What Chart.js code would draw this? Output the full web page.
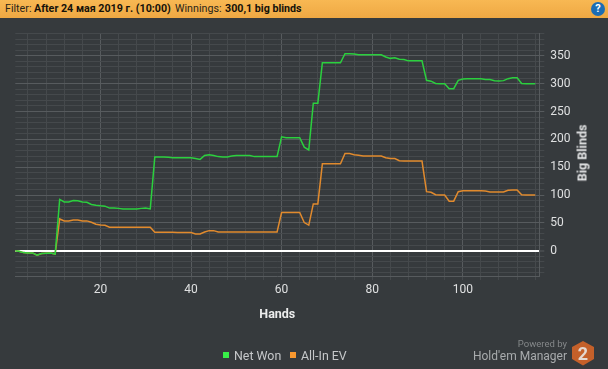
<!DOCTYPE html>
<html>
<head>
<meta charset="utf-8">
<script src="https://cdn.jsdelivr.net/npm/chart.js@4"></script>
<style>
  html, body { margin: 0; padding: 0; background: #363a3d; }
  #page { position: relative; width: 608px; height: 369px; overflow: hidden; font-family: Roboto, sans-serif; }
  #chart { position: absolute; left: 0; top: 0; }
  #header { position: absolute; left: 0; top: 0; width: 608px; height: 18px; background: linear-gradient(#f8b853, #efa843); color: #2a2418; font-size: 10.7px; line-height: 18px; }
  #header span { position: absolute; top: 0; white-space: nowrap; }
  #header b { font-weight: 700; color: #15120a; }
  #help { position: absolute; left: 591px; top: 2px; width: 14px; height: 14px; border-radius: 50%; background: #1c6db4; color: #fff; font: bold 11px/14px Roboto, sans-serif; text-align: center; }
  #yTitle { position: absolute; left: 582px; top: 153px; transform: translate(-50%, -50%) rotate(-90deg); color: #e6e7e8; font-size: 12.5px; font-weight: 700; white-space: nowrap; }
  .legend { position: absolute; top: 347px; color: #c6c8ca; font-size: 12.4px; line-height: 18px; white-space: nowrap; }
  .swatch { position: absolute; top: 352px; width: 6px; height: 6px; }
  #powered { position: absolute; right: 41px; top: 337px; color: #85888a; font-size: 9.5px; line-height: 14px; }
  #hem { position: absolute; right: 41px; top: 347px; color: #a8abad; font-size: 12px; line-height: 18px; white-space: nowrap; }
  #logo { position: absolute; left: 571px; top: 341px; }
</style>
</head>
<body>
<div id="page">
  <canvas id="chart" width="608" height="369"></canvas>
  <div id="header">
    <span style="left:5px">Filter:</span>
    <span style="left:34px"><b>After 24 мая 2019 г. (10:00)</b></span>
    <span style="left:175px">Winnings:</span>
    <span style="left:225px"><b>300,1 big blinds</b></span>
  </div>
  <div id="help">?</div>
  <div id="yTitle">Big Blinds</div>
  <div id="legend"></div>
  <div id="powered">Powered by</div>
  <div id="hem">Hold'em Manager</div>
  <svg id="logo" width="24" height="25" viewBox="0 0 24 25">
    <polygon points="12,0 23,6 23,18 12,24.5 1,18 1,6" fill="#c4602a"/>
    <text x="12" y="19" text-anchor="middle" font-family="Roboto" font-weight="700" font-size="18" fill="#e4d8d0">2</text>
  </svg>
</div>
<script>
// Data, one value per hand
const netWon = [
  0, -1, -3.5, -4, -4, -8, -5, -4.5, -4, -6,
  92, 87.5, 87.5, 90, 89.5, 87.5, 87, 83, 81.5, 80.5,
  80, 76.5, 76.5, 76, 75, 75, 75, 75, 76, 76.5,
  75, 168.5, 168.5, 168.5, 168, 167, 167, 167, 167, 167,
  165.5, 164, 171, 172.5, 171, 169, 168.5, 168.5, 170, 171,
  171, 171, 171, 169, 169, 169, 169, 169, 169, 204.5,
  203, 203, 203, 203, 186, 181, 265, 265, 337.5, 337.5,
  337.5, 337.5, 337.5, 354, 354, 353.5, 352, 352, 352, 352,
  352, 352, 348, 345.5, 346.5, 344, 343.5, 341, 341, 341,
  341, 306, 304.5, 300.5, 300, 300, 291, 291, 306, 308.5,
  309, 309, 309, 309, 307.5, 307.5, 305.5, 305, 305.5, 309,
  310.5, 310.5, 300.5, 300, 300, 300
];
const allInEv = [
  0, -1, -3.5, -4, -4, -8, -5, -4.5, -4, -6,
  57, 53.5, 53.5, 55, 55, 53.5, 53.5, 51, 47.5, 46,
  45.5, 42, 42, 42, 42, 42, 42, 42, 42, 42,
  42, 33, 33, 33, 33, 33, 32.5, 32.5, 32.5, 32.5,
  30, 30, 33.5, 36, 36, 33.5, 33.5, 33.5, 33.5, 33.5,
  33.5, 33.5, 33.5, 33.5, 33.5, 33.5, 33.5, 33.5, 33.5, 68.5,
  68.5, 68.5, 68.5, 68.5, 50.5, 46, 84, 84, 156, 156,
  156, 156, 156, 174.5, 174.5, 172.5, 171.5, 170, 170, 170,
  170, 170, 167, 165.5, 165.5, 161.5, 161, 161, 161, 161,
  161, 106, 105, 100.5, 100, 100, 89, 89, 106, 107.5,
  107.5, 107.5, 107.5, 107.5, 107, 105.5, 105.5, 105.5, 105.5, 108.5,
  109, 109, 100.5, 100, 100, 100
];
const seriesNames = ["Net Won", "All-In EV"];

const TEXT = "#dfe0e1";
const GRID_MAJOR = "#575b5e";
const GRID_MINOR = "#45494c";

const toPoints = vals => vals.map((y, i) => ({ x: i + 1, y }));

// legend is plain html, the original sits left of the plot centre
const legendBox = document.getElementById("legend");
[["#38ee48", 223, 234], ["#f8982f", 290, 301]].forEach(([color, boxX, textX], i) => {
  legendBox.insertAdjacentHTML("beforeend",
    `<div class="swatch" style="left:${boxX}px;background:${color}"></div>` +
    `<div class="legend" style="left:${textX}px">${seriesNames[i]}</div>`);
});

new Chart(document.getElementById("chart"), {
  type: "line",
  data: {
    datasets: [
      { label: seriesNames[0], data: toPoints(netWon), borderColor: "#2bd03e", borderWidth: 1.5, pointRadius: 0, tension: 0 },
      { label: seriesNames[1], data: toPoints(allInEv), borderColor: "#e18a2d", borderWidth: 1.5, pointRadius: 0, tension: 0 }
    ]
  },
  options: {
    responsive: false,
    animation: false,
    layout: { padding: { left: 15.3, top: 33.6, right: 0, bottom: 0 } },
    plugins: { legend: { display: false }, tooltip: { enabled: false } },
    scales: {
      x: {
        type: "linear",
        min: 1.2,
        max: 116.9,
        afterFit: s => { s.height = 93; },
        border: { color: GRID_MAJOR },
        title: { display: true, text: "Hands", color: "#eceded", font: { family: "Roboto", size: 12.5, weight: "bold" }, padding: { top: 0, bottom: 47 } },
        ticks: {
          stepSize: 4,
          includeBounds: false,
          autoSkip: false,
          maxRotation: 0,
          padding: 3,
          color: TEXT,
          font: { family: "Roboto", size: 12 },
          callback: v => (v % 20 === 0 ? String(v) : "")
        },
        grid: {
          tickLength: 4,
          color: c => (c.tick && c.tick.value % 20 === 0 ? GRID_MAJOR : GRID_MINOR),
          tickColor: GRID_MINOR
        }
      },
      y: {
        position: "right",
        min: -45.5,
        max: 390,
        afterFit: s => { s.width = 68.7; },
        border: { color: GRID_MAJOR },
        ticks: {
          stepSize: 10,
          includeBounds: false,
          autoSkip: false,
          padding: 6,
          color: TEXT,
          font: { family: "Roboto", size: 12 },
          callback: v => (v % 50 === 0 ? String(v) : "")
        },
        grid: {
          tickLength: 5,
          color: c => {
            const v = c.tick ? c.tick.value : 1;
            if (v === 0) return "#ffffff";
            return v % 50 === 0 ? GRID_MAJOR : GRID_MINOR;
          },
          lineWidth: c => (c.tick && c.tick.value === 0 ? 2 : 1),
          tickColor: c => (c.tick && c.tick.value % 50 === 0 ? GRID_MAJOR : GRID_MINOR),
          tickWidth: 1
        }
      }
    }
  }
});
</script>
</body>
</html>
